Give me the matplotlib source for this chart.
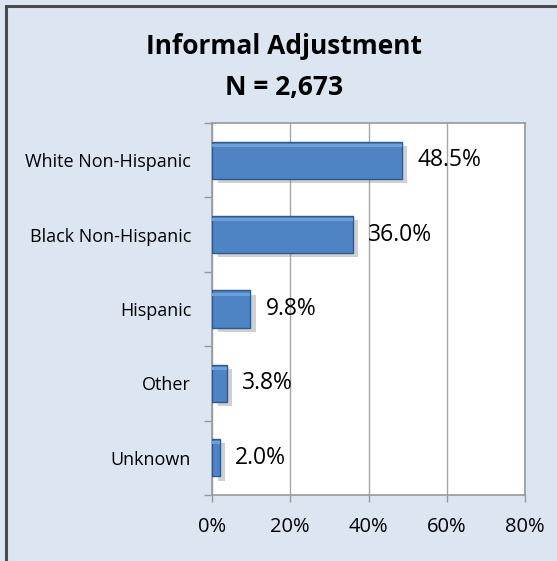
import matplotlib
matplotlib.use("Agg")
import matplotlib.pyplot as plt
import matplotlib.patheffects as pe
from matplotlib.patches import Rectangle

categories = ["White Non-Hispanic", "Black Non-Hispanic", "Hispanic", "Other", "Unknown"]
values = [48.5, 36.0, 9.8, 3.8, 2.0]
xticks = [0, 20, 40, 60, 80]
xtick_labels = ["0%", "20%", "40%", "60%", "80%"]
title_line1 = "Informal Adjustment"
title_line2 = "N = 2,673"

plt.rcParams['font.family'] = ['Open Sans', 'DejaVu Sans']

W, H = 557, 561
fig = plt.figure(figsize=(W / 100, H / 100), dpi=100)
bg = '#dce6f2'
fig.patch.set_facecolor(bg)

# outer border (left/top visible, extends past right/bottom)
fig.patches.append(Rectangle((6 / W, -0.1), 2.0, 1.1 - 6 / H, transform=fig.transFigure,
                             fill=False, edgecolor='#4a4a4a', linewidth=2.2, zorder=0))

ax = fig.add_axes([212 / W, 1 - 495 / H, (525 - 212) / W, (495 - 123) / H])
ax.set_facecolor('white')

n = len(categories)
ypos = list(range(n - 1, -1, -1))
bars = ax.barh(ypos, values, height=0.5, color='#4f84c4', edgecolor='#2d5a8a',
               linewidth=1.0, zorder=3)
for b in bars:
    b.set_path_effects([pe.SimplePatchShadow(offset=(4, -3), shadow_rgbFace='#8a8a8a', alpha=0.4),
                        pe.Normal()])
    x0, y0 = b.get_x(), b.get_y()
    w, h = b.get_width(), b.get_height()
    ax.add_patch(Rectangle((x0, y0 + h * 0.86), w, h * 0.08, facecolor='#6f9fd8',
                           edgecolor='none', zorder=4))

for y, v in zip(ypos, values):
    ax.annotate(f"{v:.1f}%", xy=(v, y), xytext=(11, 0), textcoords='offset points',
                va='center', ha='left', fontsize=16.5, color='black', zorder=5)

ax.set_xlim(0, 80)
ax.set_ylim(-0.5, n - 0.5)
ax.set_xticks(xticks)
ax.set_xticklabels(xtick_labels, fontsize=14.5)
ax.set_yticks(ypos)
ax.set_yticklabels(categories, fontsize=13)
ax.tick_params(axis='y', which='major', length=0, pad=15)
ax.set_yticks([i - 0.5 for i in range(n + 1)], minor=True)
ax.tick_params(axis='y', which='minor', length=6, color='#999999', width=1)
ax.tick_params(axis='x', which='major', length=5, color='#999999', width=1, pad=11)
ax.xaxis.grid(True, color='#a6a6a6', linewidth=1, zorder=1)
ax.set_axisbelow(True)
for s in ax.spines.values():
    s.set_color('#999999')
    s.set_linewidth(1.2)

fig.text(284 / W, 1 - 46 / H, title_line1, ha='center', va='center', fontsize=19, fontweight='bold')
fig.text(284 / W, 1 - 87 / H, title_line2, ha='center', va='center', fontsize=19, fontweight='bold')

fig.savefig("out.png", dpi=100, facecolor=bg)
